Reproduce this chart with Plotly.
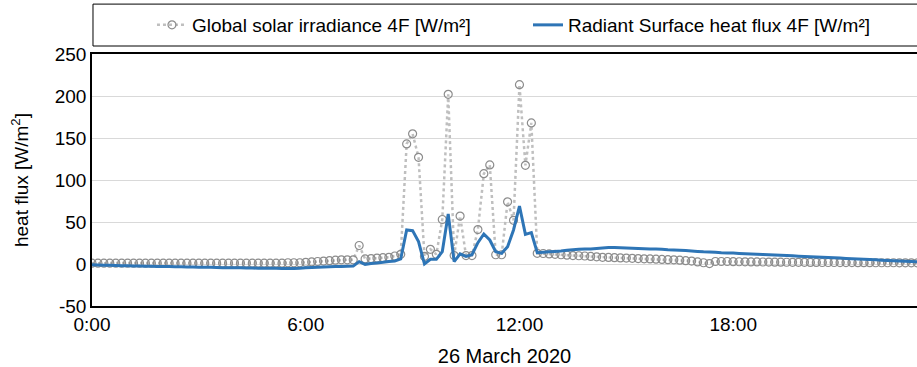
import pandas as pd
import plotly.graph_objects as go

# 10-minute samples, 26 March 2020
times = pd.date_range("2020-03-26 00:00", periods=144, freq="10min")

solar = [
    1, 1, 1, 1, 1, 1, 1, 1, 1, 1, 1, 1,
    1, 1, 1, 1, 1, 1, 1, 1, 1, 1, 1, 1,
    1, 1, 1, 1, 1, 1, 1, 1, 1, 1.5, 1.5, 1.5,
    2, 2.5, 3, 3.5, 4, 4.5, 5, 5, 5, 22, 6, 6.5,
    7, 7.5, 8, 9.5, 11.5, 143, 155, 127, 9, 17.5, 11.5, 53,
    202, 10, 57, 10, 10, 41, 107.5, 118, 11, 11, 74, 52,
    213.5, 117.5, 168, 12.7, 12.5, 12, 11.5, 11, 10.5, 10, 9.8, 9.5,
    9, 8.5, 8, 7.8, 7.5, 7.2, 7, 6.8, 6.5, 6.2, 6, 5.8,
    5.5, 5.2, 5, 4.5, 4, 3.5, 2.5, 1.5, 0.5, 3, 3, 3,
    2.8, 2.7, 2.6, 2.5, 2.5, 2.4, 2.3, 2.2, 2.2, 2.1, 2, 2,
    2, 1.9, 1.9, 1.8, 1.8, 1.8, 1.7, 1.7, 1.7, 1.6, 1.6, 1.6,
    1.5, 1.5, 1.5, 1.5, 1.4, 1.4, 1.4, 1.4, 1.3, 1.3, 1.3, 1.3,
]

flux = [
    -1, -1.2, -1.4, -1.6, -1.8, -2, -2.2, -2.4, -2.5, -2.6, -2.8, -3,
    -3, -3.1, -3.2, -3.3, -3.5, -3.6, -3.8, -3.9, -4, -4.2, -4.4, -4.5,
    -4.6, -4.6, -4.7, -4.8, -5, -5, -5.1, -5.2, -5.3, -5.4, -5.3, -5,
    -4.6, -4.2, -3.8, -3.5, -3.3, -3.1, -3, -2.8, -2.5, 2.8, -0.4, 0.5,
    1.2, 2, 3, 3.6, 6, 40.5, 39.7, 26.6, 0, 5.6, 5.6, 14.7,
    59.5, 2.8, 12, 9, 11, 25.4, 35.7, 28.6, 14.7, 12.7, 20.6, 40.5,
    69, 35.3, 37.3, 13.5, 14, 14.5, 15, 15.5, 16.5, 17, 17.5, 18,
    18, 18.5, 19, 19.5, 19.5, 19.2, 19, 18.8, 18.5, 18.3, 18, 17.8,
    17.5, 17, 16.7, 16.3, 16, 15.5, 15, 14.5, 14.2, 14, 13.5, 13.2,
    13, 12.6, 12.3, 12, 11.6, 11.3, 11, 10.7, 10.3, 10, 9.7, 9.3,
    9, 8.7, 8.3, 8, 7.6, 7.3, 7, 6.6, 6.3, 6, 5.6, 5.3,
    5, 4.6, 4.3, 4, 3.6, 3.3, 3, 2.8, 2.6, 2.4, 2.2, 2,
]

solar_name = "Global solar irradiance 4F [W/m\u00b2]"
flux_name = "Radiant Surface heat flux 4F [W/m\u00b2]"
y_title = "heat flux [W/m<sup>2</sup>]"
x_title = "26 March 2020"
x_ticks = ["2020-03-26 00:00", "2020-03-26 06:00", "2020-03-26 12:00", "2020-03-26 18:00"]
x_ticklabels = ["0:00", "6:00", "12:00", "18:00"]
y_ticks = [-50, 0, 50, 100, 150, 200, 250]
y_ticklabels = ["-50", "0", "50", "100", "150", "200", "250"]

FONT = "Liberation Sans, Arial, sans-serif"

fig = go.Figure()
fig.add_trace(go.Scatter(
    x=times, y=solar, name=solar_name, mode="lines+markers",
    line=dict(color="#BFBFBF", width=2.5, dash="dot"),
    marker=dict(symbol="circle-open", size=8, color="#8C8C8C", line=dict(width=1.2, color="#8C8C8C")),
))
fig.add_trace(go.Scatter(
    x=times, y=flux, name=flux_name, mode="lines",
    line=dict(color="#2E75B6", width=3, simplify=False),
))

# legend frame
fig.add_shape(type="rect", xref="paper", yref="paper",
              x0=0.0012, x1=1.05, y0=1.0317, y1=1.198,
              line=dict(color="#000000", width=1), fillcolor="rgba(0,0,0,0)")

fig.update_layout(
    width=917, height=367,
    margin=dict(l=92, r=0, t=54, b=61, autoexpand=False),
    paper_bgcolor="white", plot_bgcolor="white",
    font=dict(family=FONT, size=19, color="#000000"),
    showlegend=True,
    legend=dict(orientation="h", x=0.0727, xanchor="left", y=1.115, yanchor="middle",
                entrywidth=331, entrywidthmode="pixels",
                font=dict(size=19), bgcolor="rgba(0,0,0,0)", borderwidth=0,
                itemwidth=30, tracegroupgap=0),
    xaxis=dict(
        type="date", automargin=False,
        range=["2020-03-26 00:00", "2020-03-26 23:09:36"],
        tickvals=x_ticks, ticktext=x_ticklabels,
        showgrid=False, zeroline=False,
        showline=True, linecolor="#000000", linewidth=1.5, mirror=True,
        ticks="", tickfont=dict(size=19),
        title=dict(text=x_title, font=dict(size=20), standoff=15),
    ),
    yaxis=dict(
        automargin=False,
        range=[-50, 250],
        tickvals=y_ticks, ticktext=y_ticklabels,
        showgrid=True, gridcolor="#D9D9D9", gridwidth=1,
        zeroline=False,
        showline=True, linecolor="#000000", linewidth=1.5, mirror=False,
        ticks="", tickfont=dict(size=19),
        title=dict(text=y_title, font=dict(size=19), standoff=21),
    ),
)

fig.write_html(
    "out.html",
    config={"displayModeBar": False},
    post_script="document.body.style.margin='0';document.body.style.overflow='hidden';",
)
